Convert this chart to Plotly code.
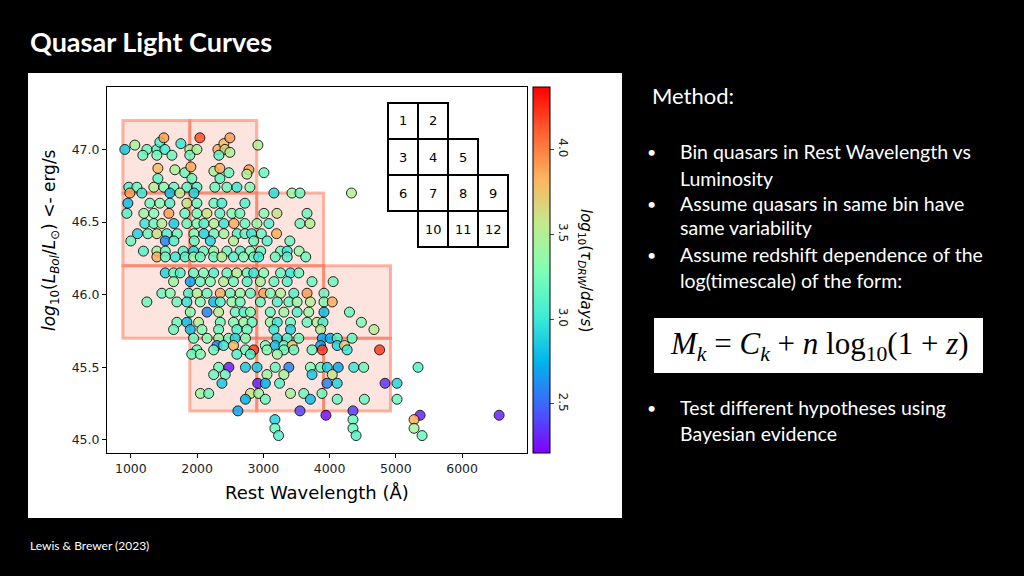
import plotly.graph_objects as go

# ---- data ----
pts = [
(909,47.00,2.85),(1060,47.03,3.45),(1242,47.00,3.2),(1181,46.96,3.2),(1393,47.00,3.15),(1438,47.05,3.1),(1498,47.08,3.9),(1514,47.00,3.05),(1620,46.96,3.2),(1393,46.96,3.25),(1755,47.04,3.0),(1890,47.00,3.5),(1890,46.96,3.2),(1997,47.00,3.45),(2042,47.08,4.15),(2314,47.00,3.85),(2404,47.04,3.8),(2420,47.00,3.7),(2495,47.08,3.9),(2329,46.96,3.15),(2495,46.98,3.5),(2918,47.03,3.5),(1408,46.87,3.8),(1665,46.86,3.45),(1815,46.84,3.2),(1906,46.88,3.85),(1921,46.80,3.2),(1408,46.80,3.15),(2254,46.85,3.45),(2344,46.87,3.85),(2480,46.84,3.2),(2344,46.80,3.15),(2782,46.86,3.9),(2752,46.83,3.5),(3009,46.84,3.2),
]
x_vals = [p[0] for p in pts]
y_vals = [p[1] for p in pts]
tau_vals = [p[2] for p in pts]

rows = [
(46.74,[970,1091,1347,1498,1650,1846,1997,2269,2450,2601,2797],[3.1,3.2,3.5,3.3,3.2,3.15,3.1,3.2,3.2,3.0,3.3]),
(46.70,[985,1166,1589,1740,1952,3160,3432,3553,4330],[3.9,3.0,2.8,3.5,2.9,2.95,3.4,3.2,3.5]),
(46.63,[955,1287,1438,1589,1846,1997,2254,2374,2722],[2.8,3.2,3.3,3.1,3.6,3.2,3.2,3.05,3.1]),
(46.56,[940,1196,1347,1574,1815,1997,2148,2344,2525,2646,3009,3205,3659],[3.1,3.4,3.3,3.9,3.2,3.25,3.6,3.15,3.3,3.2,3.3,3.6,3.2]),
(46.49,[1211,1347,1468,1650,1846,1997,2103,2254,2404,2555,2722,2903,3084,3553,3704],[3.0,3.2,3.5,2.85,3.2,3.3,3.1,3.5,3.0,3.85,3.2,3.4,3.1,3.2,3.5]),
(46.42,[1100,1257,1393,1544,1700,1952,2103,2254,2404,2606,2722,2822,2970,3200],[2.9,3.2,3.6,3.1,3.2,3.3,2.9,3.2,3.45,3.1,3.2,3.0,3.2,3.85]),
(46.37,[1000,1520,1650,1957,2200,2550,2855,3057,3400],[3.2,2.6,3.1,3.2,2.9,3.5,3.2,3.1,3.2]),
(46.30,[1190,1393,1520,1790,1946,2097,2250,2450,2650,2800,2960,3260,3360,3540],[3.1,3.4,3.2,3.1,2.9,3.2,3.4,3.2,3.1,3.3,3.2,3.2,3.0,3.4]),
(46.26,[1393,1520,1670,1820,1946,2048,2250,2374,2550,2700,2855,2930,3180,3360,3640],[3.85,3.2,3.0,3.1,3.4,3.2,3.2,3.5,3.1,3.3,3.2,3.0,3.2,3.1,3.2]),
(46.15,[1520,1645,1745,1946,2097,2250,2450,2600,2755,2855,3005,3260,3410,3535],[2.9,3.2,3.1,3.2,3.3,3.1,3.2,3.5,3.2,3.0,3.3,3.2,3.0,3.2]),
(46.09,[1645,1897,2048,2200,2400,2550,2755,2955,3160,3360,3735,4054],[3.4,2.7,3.2,3.3,3.5,3.2,3.1,3.45,3.2,3.1,3.2,3.2]),
(46.01,[1468,1594,1871,2000,2150,2350,2500,2650,2805,3005,3105,3260,3460,3660,3915],[3.2,3.3,3.1,3.5,3.2,3.85,3.2,3.4,3.2,3.9,3.3,3.5,3.1,3.9,3.2]),
(45.95,[1242,1695,1846,2048,2250,2350,2525,2650,2955,3210,3385,3510,3710,3915,4040],[3.2,3.2,3.0,3.3,2.8,3.1,3.4,3.2,3.2,3.1,3.2,3.4,3.5,3.3,3.85]),
(45.88,[1897,2150,2325,2575,2705,2805,3105,3310,3510,3685,3915,4300],[3.3,2.6,3.5,3.2,3.1,3.3,3.2,3.4,3.1,3.4,2.8,3.2]),
(45.81,[1695,1846,2022,2350,2550,2705,2830,3105,3210,3410,3660,3810,3900,4480],[3.2,2.8,3.5,3.2,3.3,3.4,3.2,3.4,3.0,3.2,3.2,3.5,3.1,3.3]),
(45.76,[1645,1897,2073,2325,2600,2755,3160,3410,3865,4670],[3.2,2.8,3.3,3.2,3.1,3.2,3.0,2.9,3.5,3.5]),
(45.70,[1947,2150,2325,2475,2575,2730,3205,3360,3535,3890,4010,4115,4340],[3.2,3.3,3.4,3.2,2.9,3.3,2.9,3.1,3.2,2.7,2.75,3.1,3.2]),
(45.65,[2300,2400,2550,3030,3180,3310,3435,3865,4115,4225],[2.6,3.0,3.8,3.3,2.8,3.2,3.75,2.7,2.9,3.7]),
(45.62,[1997,2250,2730,2855,3055,3310,3460,3735,3890,4265,4755],[3.2,3.2,3.2,4.2,3.3,3.2,3.2,3.2,4.2,3.0,4.2]),
(45.59,[1920,2050,2600,2805,3210],[3.2,3.3,3.1,3.1,3.4]),
(45.50,[2325,2480,2730,2905,3180,3385,3710,3865,3965,4130,4365,4515,5335],[3.2,2.3,2.85,2.85,3.2,2.6,3.3,3.2,2.85,2.7,3.0,3.2,3.1]),
(45.45,[2250,2425,3055,3310,3735,4040],[3.2,3.2,3.4,3.45,2.85,3.6]),
(45.39,[2375,2915,3030,3245,3960,4115,4837,5018],[2.85,2.3,2.75,3.1,2.6,2.9,2.35,2.9]),
(45.32,[2050,2175,2805,2930,3410,3610,3885],[3.4,3.2,3.6,3.4,3.45,3.2,3.2]),
(45.28,[2730,3030,3710,4115,4525,5018],[2.75,3.2,2.8,3.2,3.2,3.2]),
(45.20,[2616,3553,4353],[2.7,2.4,2.4]),
(45.17,[3945,5366,6559],[2.25,2.3,2.3]),
(45.14,[3175,4353,5275],[2.9,3.2,3.85]),
(45.08,[3175,4353,5275],[3.2,3.2,3.45]),
(45.03,[3230,4400,5396],[3.1,3.1,3.2]),
]
for yv, xs, cs in rows:
    for xv, cv in zip(xs, cs):
        x_vals.append(xv); y_vals.append(yv); tau_vals.append(cv)

bin_x_edges = [880, 1890, 2900, 3910, 4920]
bin_y_edges = [47.2, 46.7, 46.2, 45.7, 45.2]
bin_cols = [[0, 1], [0, 1, 2], [0, 1, 2, 3], [1, 2, 3]]  # per row (top->bottom)
x_ticks = [1000, 2000, 3000, 4000, 5000, 6000]
y_ticks = [45.0, 45.5, 46.0, 46.5, 47.0]
cb_ticks = [2.5, 3.0, 3.5, 4.0]

rainbow = [[0, '#8000ff'], [0.125, '#4062fa'], [0.25, '#00b5eb'], [0.375, '#40ecd4'],
           [0.5, '#80ffb4'], [0.625, '#c0eb8d'], [0.75, '#ffb360'], [0.875, '#ff6232'], [1, '#ff0000']]

W, H = 1024, 576
def px(x): return x / W
def py(y): return 1 - y / H

fig = go.Figure()
fig.add_trace(go.Scatter(
    x=x_vals, y=y_vals, mode='markers',
    marker=dict(size=10, color=tau_vals, colorscale=rainbow, cmin=2.21, cmax=4.37,
                opacity=0.85, line=dict(color='black', width=1),
                colorbar=dict(x=px(533), xanchor='left', xref='paper', xpad=0, ypad=0,
                              y=py(270), yanchor='middle',
                              len=366/H, lenmode='fraction', thickness=17, thicknessmode='pixels',
                              tickvals=cb_ticks, ticktext=[f"{t:.1f}" for t in cb_ticks],
                              tickangle=90, ticks='outside', ticklen=4,
                              tickfont=dict(family='DejaVu Sans', size=12, color='#222'),
                              outlinecolor='black', outlinewidth=1)),
    showlegend=False, hoverinfo='skip'))

shapes = []
shapes.append(dict(type='rect', xref='paper', yref='paper', x0=px(28), x1=px(622), y0=py(518), y1=py(73),
                   fillcolor='white', line=dict(width=0), layer='below'))
for r, cols in enumerate(bin_cols):
    for c in cols:
        shapes.append(dict(type='rect', xref='x', yref='y', x0=bin_x_edges[c], x1=bin_x_edges[c+1],
                           y0=bin_y_edges[r+1], y1=bin_y_edges[r], fillcolor='rgba(250,120,90,0.2)',
                           line=dict(color='rgba(250,110,80,0.5)', width=3), layer='below'))
shapes.append(dict(type='rect', xref='paper', yref='paper', x0=px(654), x1=px(983), y0=py(373), y1=py(318),
                   fillcolor='white', line=dict(width=0), layer='below'))

annotations = []
gx = [388, 418, 448, 478, 508]
gy = [103, 139, 175, 211, 247]
n = 1
for r, cols in enumerate(bin_cols):
    for c in cols:
        shapes.append(dict(type='rect', xref='paper', yref='paper', x0=px(gx[c]), x1=px(gx[c+1]),
                           y0=py(gy[r+1]), y1=py(gy[r]), fillcolor='white', line=dict(color='black', width=2)))
        annotations.append(dict(xref='paper', yref='paper', x=px((gx[c]+gx[c+1])/2), y=py((gy[r]+gy[r+1])/2),
                                xanchor='center', yanchor='middle',
                                text=str(n), showarrow=False, font=dict(family='DejaVu Sans', size=13, color='black')))
        n += 1

annotations += [
    dict(xref='paper', yref='paper', x=px(28), y=py(42), xanchor='left', yanchor='middle', showarrow=False,
         text='<b>Quasar Light Curves</b>', font=dict(family='Lato', size=27, color='white')),
    dict(xref='paper', yref='paper', x=px(650), y=py(95), xanchor='left', yanchor='middle', showarrow=False,
         text='Method:', font=dict(family='Lato', size=22, color='white')),
    dict(xref='paper', yref='paper', x=px(28), y=py(545), xanchor='left', yanchor='middle', showarrow=False,
         text='Lewis &amp; Brewer (2023)', font=dict(family='Lato', size=12, color='white')),
    dict(xref='paper', yref='paper', x=px(50), y=py(240), xanchor='center', yanchor='middle', textangle=-90, showarrow=False,
         text='<i>log</i><sub>10</sub>(<i>L</i><sub><i>Bol</i></sub>/<i>L</i><sub>⊙</sub>) <- erg/s',
         font=dict(family='DejaVu Sans', size=17, color='black')),
    dict(xref='paper', yref='paper', x=px(317), y=py(492), xanchor='center', yanchor='middle', showarrow=False,
         text='Rest Wavelength (Å)', font=dict(family='DejaVu Sans', size=18, color='black')),
    dict(xref='paper', yref='paper', x=px(586), y=py(270), xanchor='center', yanchor='middle', textangle=90, showarrow=False,
         text='<i>log</i><sub>10</sub>(<i>τ</i><sub><i>DRW</i></sub>/<i>days</i>)',
         font=dict(family='DejaVu Sans', size=15, color='black')),
    dict(xref='paper', yref='paper', x=px(668), y=py(346), xanchor='left', yanchor='middle', showarrow=False,
         text='<i>M</i><sub><i>k</i></sub> = <i>C</i><sub><i>k</i></sub> + <i>n</i> log<sub>10</sub>(1 + <i>z</i>)',
         font=dict(family='Liberation Serif', size=31, color='black')),
]
bullets = [(152, 'Bin quasars in Rest Wavelength vs'), (178, 'Luminosity'), (203, 'Assume quasars in same bin have'),
           (228, 'same variability'), (254, 'Assume redshift dependence of the'), (280, 'log(timescale) of the form:'),
           (407, 'Test different hypotheses using'), (433, 'Bayesian evidence')]
for yy, t in bullets:
    annotations.append(dict(xref='paper', yref='paper', x=px(678), y=py(yy), xanchor='left', yanchor='middle',
                            showarrow=False, text=t, font=dict(family='Lato', size=19.5, color='white')))
for yy in [152, 203, 254, 407]:
    annotations.append(dict(xref='paper', yref='paper', x=px(651), y=py(yy), xanchor='center', yanchor='middle',
                            showarrow=False, text='•', font=dict(family='Lato', size=16, color='white')))

axis_common = dict(showgrid=False, zeroline=False, showline=True, linecolor='black', linewidth=1, mirror=True,
                   ticks='outside', ticklen=4, tickcolor='black', tickfont=dict(family='DejaVu Sans', size=12.5, color='#222'))
fig.update_layout(
    width=W, height=H, margin=dict(l=0, r=0, t=0, b=0),
    paper_bgcolor='black', plot_bgcolor='white',
    xaxis=dict(domain=[px(107), px(527)], range=[640, 6980], tickvals=x_ticks, **axis_common),
    yaxis=dict(domain=[py(453), py(87)], range=[44.91, 47.43], tickvals=y_ticks, tickformat='.1f', **axis_common),
    shapes=shapes, annotations=annotations,
)
fig.write_html("out.html", config={'displayModeBar': False})
with open("out.html", encoding="utf-8") as f:
    html = f.read()
html = html.replace("<body>", '<body style="margin:0;background:black;overflow:hidden">', 1)
with open("out.html", "w", encoding="utf-8") as f:
    f.write(html)
